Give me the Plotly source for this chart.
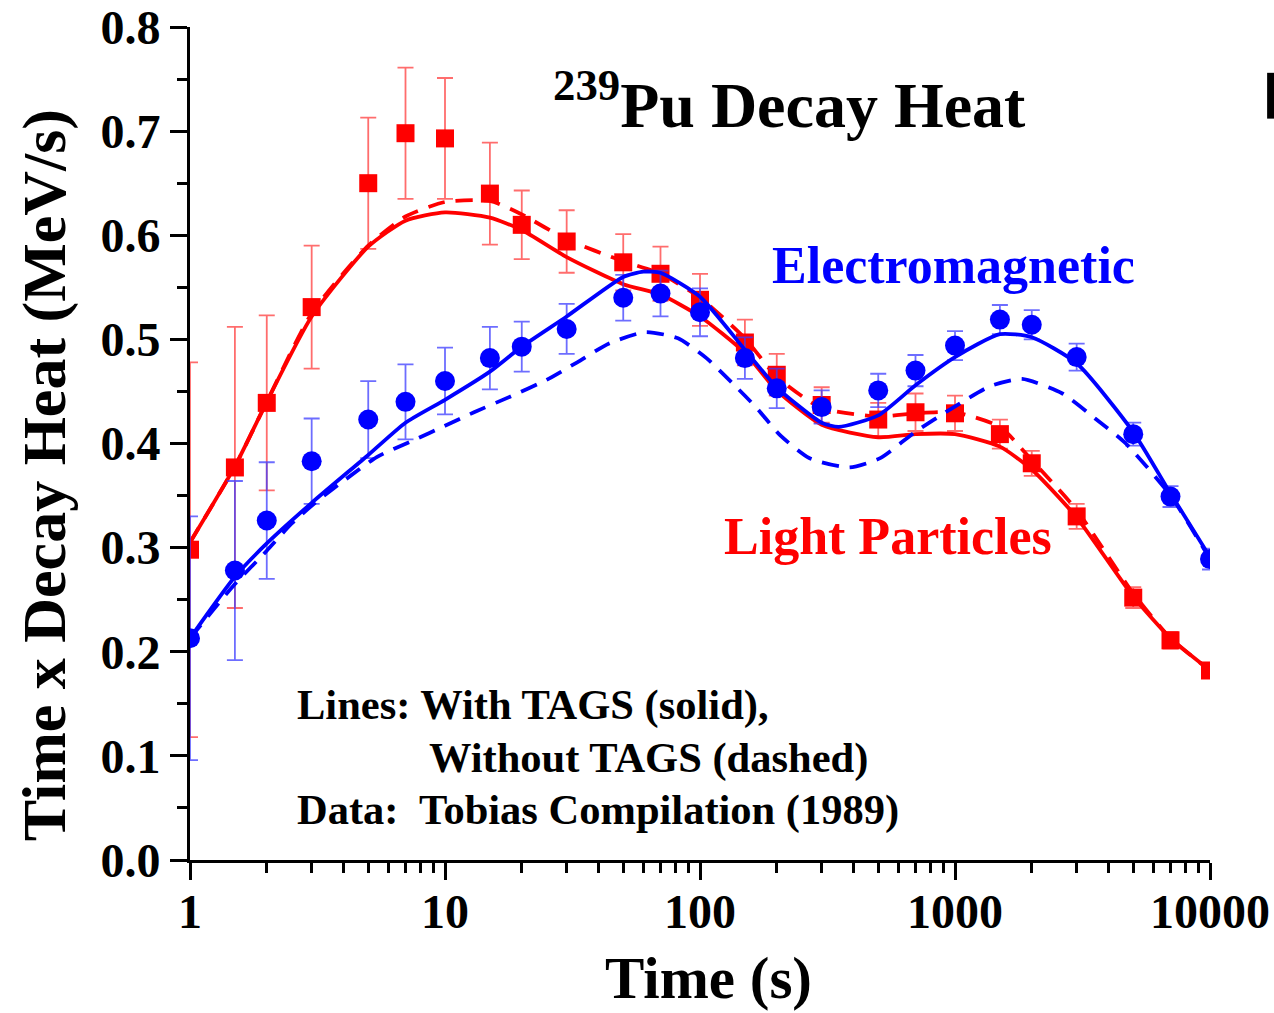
import plotly.graph_objects as go

# ---- data ----
t_data = [1, 1.5, 2, 3, 5, 7, 10, 15, 20, 30, 50, 70, 100, 150, 200, 300,
          500, 700, 1000, 1500, 2000, 3000, 5000, 7000, 10000]
light_y = [0.298, 0.377, 0.439, 0.531, 0.650, 0.698, 0.693, 0.640, 0.610, 0.594,
           0.574, 0.563, 0.538, 0.497, 0.466, 0.437, 0.423, 0.430, 0.429, 0.409,
           0.381, 0.330, 0.252, 0.211, 0.182]
light_err = [0.180, 0.135, 0.084, 0.059, 0.063, 0.063, 0.058, 0.049, 0.033, 0.030,
             0.027, 0.026, 0.025, 0.022, 0.020, 0.017, 0.016, 0.018, 0.017, 0.014,
             0.012, 0.012, 0.010, 0.008, 0.007]
em_y = [0.213, 0.278, 0.326, 0.383, 0.423, 0.440, 0.460, 0.482, 0.493, 0.510,
        0.540, 0.544, 0.526, 0.482, 0.453, 0.435, 0.451, 0.470, 0.494, 0.519,
        0.514, 0.483, 0.409, 0.349, 0.289]
em_err = [0.117, 0.086, 0.056, 0.041, 0.037, 0.036, 0.032, 0.030, 0.024, 0.024,
          0.022, 0.022, 0.023, 0.020, 0.019, 0.016, 0.016, 0.015, 0.014, 0.014,
          0.014, 0.013, 0.011, 0.010, 0.010]

t_light_solid = [1, 1.5, 2, 3, 5, 7, 10, 15, 20, 30, 50, 70, 100, 150, 200, 300,
                 500, 700, 1000, 1500, 2000, 3000, 5000, 7000, 10000]
light_solid = [0.305, 0.378, 0.440, 0.522, 0.589, 0.614, 0.622, 0.617, 0.605, 0.579,
               0.553, 0.543, 0.522, 0.487, 0.451, 0.418, 0.406, 0.409, 0.409, 0.397,
               0.375, 0.329, 0.253, 0.213, 0.182]
t_light_dash = [1, 1.5, 2, 3, 5, 7, 10, 15, 20, 30, 50, 70, 100, 150, 200, 300,
                500, 700, 1000, 1500, 2000, 3000, 5000, 7000, 10000]
light_dash = [0.305, 0.378, 0.440, 0.525, 0.590, 0.618, 0.632, 0.633, 0.620, 0.596,
              0.575, 0.563, 0.540, 0.501, 0.464, 0.434, 0.426, 0.429, 0.430, 0.416,
              0.384, 0.336, 0.256, 0.213, 0.182]

t_em_solid = [1, 1.5, 2, 3, 5, 7, 10, 15, 20, 30, 50, 60, 70, 100, 150, 200, 300,
              350, 500, 700, 1000, 1500, 2000, 3000, 5000, 7000, 10000]
em_solid = [0.213, 0.272, 0.304, 0.343, 0.389, 0.420, 0.442, 0.469, 0.493, 0.522,
            0.560, 0.565, 0.564, 0.541, 0.490, 0.454, 0.420, 0.416, 0.427, 0.456,
            0.483, 0.505, 0.502, 0.477, 0.411, 0.352, 0.291]
t_em_dash = [1, 1.5, 2, 2.5, 3.2, 4.1, 5.4, 7.5, 10, 13, 18, 25, 33, 44, 61, 82,
             106, 134, 167, 206, 268, 385, 509, 697, 976, 1372, 1833, 2636, 3544,
             4630, 7000, 10000]
em_dash = [0.213, 0.265, 0.297, 0.323, 0.346, 0.366, 0.387, 0.403, 0.417, 0.430,
           0.445, 0.461, 0.478, 0.496, 0.507, 0.501, 0.482, 0.458, 0.434, 0.408,
           0.386, 0.377, 0.386, 0.411, 0.434, 0.455, 0.462, 0.448, 0.424, 0.401,
           0.350, 0.289]

x_major = [1, 10, 100, 1000, 10000]
x_labels = ["1", "10", "100", "1000", "10000"]
x_minor = [m * d for d in [1, 10, 100, 1000] for m in range(2, 10)]
y_major = [0.0, 0.1, 0.2, 0.3, 0.4, 0.5, 0.6, 0.7, 0.8]
y_labels = ["0.0", "0.1", "0.2", "0.3", "0.4", "0.5", "0.6", "0.7", "0.8"]
y_minor = [0.05, 0.15, 0.25, 0.35, 0.45, 0.55, 0.65, 0.75]

RED = "#ff0000"
BLUE = "#0000ff"
FONT = "Liberation Serif"

fig = go.Figure()

fig.add_trace(go.Scatter(x=t_data, y=light_y, mode="markers",
                         marker=dict(symbol="square", size=18, color=RED),
                         error_y=dict(type="data", array=light_err, color="rgba(255,60,60,0.75)",
                                      thickness=1.8, width=8)))
fig.add_trace(go.Scatter(x=t_light_dash, y=light_dash, mode="lines",
                         line=dict(color=RED, width=3.8, dash="17px,11px", shape="spline", smoothing=0.6)))
fig.add_trace(go.Scatter(x=t_light_solid, y=light_solid, mode="lines",
                         line=dict(color=RED, width=3.8, shape="spline", smoothing=0.6)))
fig.add_trace(go.Scatter(x=t_data, y=em_y, mode="markers",
                         marker=dict(symbol="circle", size=20, color=BLUE),
                         error_y=dict(type="data", array=em_err, color="rgba(60,60,255,0.75)",
                                      thickness=1.8, width=8)))
fig.add_trace(go.Scatter(x=t_em_dash, y=em_dash, mode="lines",
                         line=dict(color=BLUE, width=3.8, dash="17px,11px", shape="spline", smoothing=0.6)))
fig.add_trace(go.Scatter(x=t_em_solid, y=em_solid, mode="lines",
                         line=dict(color=BLUE, width=3.8, shape="spline", smoothing=0.6)))

tickfont = dict(family=FONT, size=48, color="black", weight="bold")
xr = [0, 4]
yr = [0, 0.8]

fig.update_layout(
    width=1274, height=1013,
    margin=dict(l=190, r=64, t=27, b=153, autoexpand=False),
    paper_bgcolor="white", plot_bgcolor="white",
    showlegend=False,
    xaxis=dict(type="log", range=xr, tickmode="array", tickvals=x_major, ticktext=x_labels,
               ticks="outside", ticklen=17, tickwidth=3, tickcolor="black", automargin=False,
               showline=True, linewidth=3, linecolor="black", showgrid=False, zeroline=False,
               tickfont=tickfont, ticklabelstandoff=-10,
               minor=dict(tickmode="array", tickvals=x_minor, ticks="outside", ticklen=10,
                          tickwidth=2.5, tickcolor="black", showgrid=False)),
    xaxis2=dict(type="log", range=xr, overlaying="x", side="top", anchor="y", automargin=False,
                tickmode="array", tickvals=x_major, showticklabels=False,
                ticks="inside", ticklen=17, tickwidth=3, tickcolor="black",
                showline=True, linewidth=3, linecolor="black", showgrid=False, zeroline=False,
                minor=dict(tickmode="array", tickvals=x_minor, ticks="inside", ticklen=10,
                           tickwidth=2.5, tickcolor="black", showgrid=False)),
    yaxis=dict(range=yr, tickmode="array", tickvals=y_major, ticktext=y_labels, automargin=False,
               ticks="outside", ticklen=17, tickwidth=3, tickcolor="black",
               showline=True, linewidth=3, linecolor="black", showgrid=False, zeroline=False,
               tickfont=tickfont,
               minor=dict(tickmode="array", tickvals=y_minor, ticks="outside", ticklen=10,
                          tickwidth=2.5, tickcolor="black", showgrid=False)),
    yaxis2=dict(range=yr, overlaying="y", side="right", anchor="x", automargin=False,
                tickmode="array", tickvals=y_major, showticklabels=False,
                ticks="inside", ticklen=17, tickwidth=3, tickcolor="black",
                showline=True, linewidth=3, linecolor="black", showgrid=False, zeroline=False,
                minor=dict(tickmode="array", tickvals=y_minor, ticks="inside", ticklen=10,
                           tickwidth=2.5, tickcolor="black", showgrid=False)),
)

ann = []
ann.append(dict(text="<sup>239</sup>Pu Decay Heat", xref="paper", yref="paper",
                x=0.588, y=0.912, xanchor="center", yanchor="middle", showarrow=False,
                font=dict(family=FONT, size=64, color="black", weight="bold")))
ann.append(dict(text="Electromagnetic", xref="paper", yref="paper",
                x=0.749, y=0.714, xanchor="center", yanchor="middle", showarrow=False,
                font=dict(family=FONT, size=52, color=BLUE, weight="bold")))
ann.append(dict(text="Light Particles", xref="paper", yref="paper",
                x=0.684, y=0.388, xanchor="center", yanchor="middle", showarrow=False,
                font=dict(family=FONT, size=52, color=RED, weight="bold")))
ann.append(dict(text="Lines: With TAGS (solid),", xref="paper", yref="paper",
                x=0.103, y=0.186, xanchor="left", yanchor="middle", showarrow=False,
                font=dict(family=FONT, size=42.5, color="black", weight="bold")))
ann.append(dict(text="Without TAGS (dashed)", xref="paper", yref="paper",
                x=0.232, y=0.123, xanchor="left", yanchor="middle", showarrow=False,
                font=dict(family=FONT, size=42.5, color="black", weight="bold")))
ann.append(dict(text="Data:  Tobias Compilation (1989)", xref="paper", yref="paper",
                x=0.103, y=0.060, xanchor="left", yanchor="middle", showarrow=False,
                font=dict(family=FONT, size=42.5, color="black", weight="bold")))
# axis titles
ann.append(dict(text="Time (s)", xref="paper", yref="paper",
                x=0.508, y=-0.142, xanchor="center", yanchor="middle", showarrow=False,
                font=dict(family=FONT, size=59, color="black", weight="bold")))
ann.append(dict(text="Time x Decay Heat (MeV/s)", xref="paper", yref="paper",
                x=-0.143, y=0.462, xanchor="center", yanchor="middle", showarrow=False,
                textangle=-90,
                font=dict(family=FONT, size=62, color="black", weight="bold")))
fig.update_layout(annotations=ann)

# partial glyph visible at the right edge of the original image
fig.add_shape(type="rect", xref="paper", yref="paper", x0=1.056, x1=1.066, y0=0.89, y1=0.945,
              fillcolor="black", line=dict(width=0))

fig.write_html("out.html")
